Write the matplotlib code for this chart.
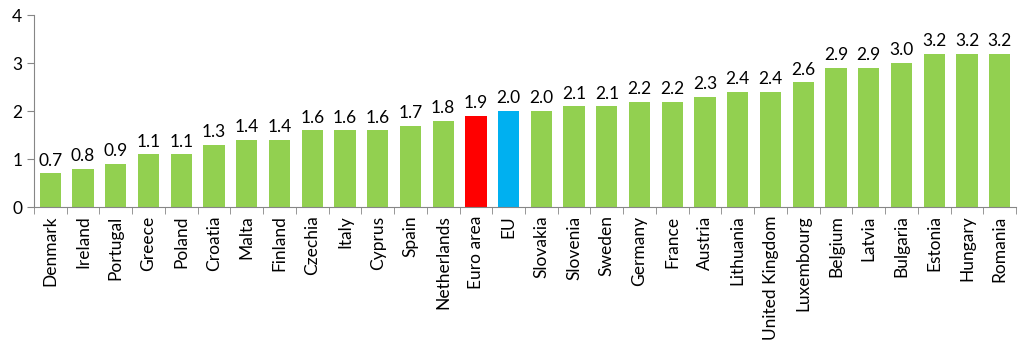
import matplotlib
matplotlib.use('Agg')
import matplotlib.pyplot as plt
import numpy as np

plt.rcParams['font.family'] = ['Lato', 'DejaVu Sans']

countries = ['Denmark', 'Ireland', 'Portugal', 'Greece', 'Poland', 'Croatia', 'Malta',
             'Finland', 'Czechia', 'Italy', 'Cyprus', 'Spain', 'Netherlands', 'Euro area',
             'EU', 'Slovakia', 'Slovenia', 'Sweden', 'Germany', 'France', 'Austria',
             'Lithuania', 'United Kingdom', 'Luxembourg', 'Belgium', 'Latvia', 'Bulgaria',
             'Estonia', 'Hungary', 'Romania']
values = [0.7, 0.8, 0.9, 1.1, 1.1, 1.3, 1.4, 1.4, 1.6, 1.6, 1.6, 1.7, 1.8, 1.9,
          2.0, 2.0, 2.1, 2.1, 2.2, 2.2, 2.3, 2.4, 2.4, 2.6, 2.9, 2.9, 3.0, 3.2, 3.2, 3.2]

# couleurs : vert par défaut, zone euro en rouge, UE en bleu
colors = ['#92D050'] * len(countries)
colors[countries.index('Euro area')] = '#FF0000'
colors[countries.index('EU')] = '#00B0F0'

fig = plt.figure(figsize=(10.23, 3.44), dpi=100)
ax = fig.add_axes([0.0332, 0.398, 0.96, 0.558])

x = np.arange(len(countries))
bars = ax.bar(x, values, width=0.65, color=colors)

for xi, v in zip(x, values):
    ax.text(xi, v + 0.1, '%.1f' % v, ha='center', va='bottom', fontsize=12.5)

ax.set_xlim(-0.5, len(countries) - 0.5)
ax.set_ylim(0, 4)
ax.set_yticks([0, 1, 2, 3, 4])
ax.set_xticks(x)
ax.set_xticklabels(countries, rotation=90, fontsize=12.5)
ax.set_xticks(np.arange(-0.5, len(countries)), minor=True)
ax.tick_params(axis='x', which='major', length=0, pad=6)
ax.tick_params(axis='x', which='minor', length=5, color='#868686', direction='out')
ax.tick_params(axis='y', length=5, color='#868686', labelsize=12.5)

for s in ['top', 'right']:
    ax.spines[s].set_visible(False)
for s in ['left', 'bottom']:
    ax.spines[s].set_color('#868686')

fig.savefig('out.png', dpi=100)
